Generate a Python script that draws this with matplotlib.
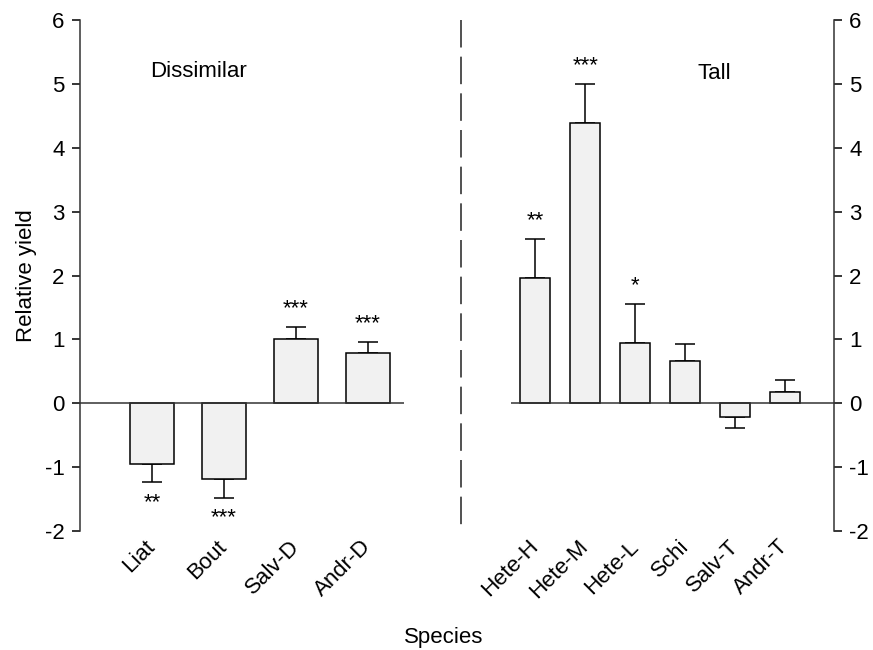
"""
Relative yield of species in the Dissimilar and Tall groups,
bar chart with one-sided error bars and significance stars.
"""

import matplotlib
matplotlib.use("Agg")
import matplotlib.pyplot as plt
from matplotlib.lines import Line2D

plt.rcParams["font.family"] = ["Liberation Sans", "DejaVu Sans"]
plt.rcParams["font.size"] = 16
plt.rcParams["axes.unicode_minus"] = False

# Dissimilar group
dis_species = ["Liat", "Bout", "Salv-D", "Andr-D"]
dis_yield = [-0.95, -1.19, 1.01, 0.79]
dis_err = [0.29, 0.29, 0.19, 0.17]
dis_stars = ["**", "***", "***", "***"]

# Tall group
tall_species = ["Hete-H", "Hete-M", "Hete-L", "Schi", "Salv-T", "Andr-T"]
tall_yield = [1.96, 4.39, 0.94, 0.66, -0.21, 0.18]
tall_err = [0.61, 0.61, 0.61, 0.27, 0.17, 0.18]
tall_stars = ["**", "***", "*", "", "", ""]

yticks = [-2, -1, 0, 1, 2, 3, 4, 5, 6]

W, H = 873, 650
fig = plt.figure(figsize=(W / 100, H / 100), dpi=100)

bottom = 1 - 531 / H
height = (531 - 20) / H
ax1 = fig.add_axes([80 / W, bottom, 324 / W, height])
ax2 = fig.add_axes([511 / W, bottom, 323 / W, height])


def draw_group(ax, names, vals, errs, stars, xlim, side):
    pos = list(range(1, len(names) + 1))
    lower = [e if v < 0 else 0 for v, e in zip(vals, errs)]
    upper = [e if v >= 0 else 0 for v, e in zip(vals, errs)]
    ax.bar(pos, vals, width=0.6, color="#f1f1f1", edgecolor="black",
           linewidth=1.1, zorder=3)
    ax.errorbar(pos, vals, yerr=[lower, upper], fmt="none", ecolor="black",
                elinewidth=1.1, capsize=7, capthick=1.1, zorder=2)
    ax.axhline(0, color="#333333", linewidth=1.1, zorder=4)
    for x, v, e, s in zip(pos, vals, errs, stars):
        if not s:
            continue
        if v >= 0:
            ax.annotate(s, (x, v + e), xytext=(0, 5.5), textcoords="offset points",
                        ha="center", va="bottom", fontsize=16)
        else:
            ax.annotate(s, (x, v - e), xytext=(0, -7), textcoords="offset points",
                        ha="center", va="top", fontsize=16)

    ax.set_xlim(*xlim)
    ax.set_ylim(-2, 6)
    ax.set_yticks(yticks)
    ax.set_yticklabels([str(t) for t in yticks])
    ax.set_xticks(pos)
    ax.set_xticklabels(names, rotation=45, ha="right", va="center",
                       rotation_mode="anchor")
    ax.tick_params(axis="x", length=0, pad=9)
    for sp in ["top", "bottom", "left", "right"]:
        ax.spines[sp].set_visible(sp == side)
    ax.spines[side].set_linewidth(1.1)
    ax.spines[side].set_color("#333333")
    ax.patch.set_visible(False)
    if side == "right":
        ax.yaxis.tick_right()
    ax.tick_params(axis="y", direction="out", length=6, width=1.1, pad=5)


draw_group(ax1, dis_species, dis_yield, dis_err, dis_stars, (0, 4.5), "left")
draw_group(ax2, tall_species, tall_yield, tall_err, tall_stars, (0.514, 6.97), "right")

ax1.set_ylabel("Relative yield", labelpad=6)
ax1.text(1.65, 5.2, "Dissimilar", ha="center", va="center")
ax2.text(4.57, 5.17, "Tall", ha="center", va="center")

# dashed separator between the two groups
fig.add_artist(Line2D([460.7 / W, 460.7 / W], [1 - 20 / H, 1 - 527 / H],
                      transform=fig.transFigure, color="#222222",
                      linewidth=1.1, dashes=(18, 6)))

fig.text(444 / W, 1 - 637 / H, "Species", ha="center", va="center")

fig.savefig("out.png", dpi=100)
